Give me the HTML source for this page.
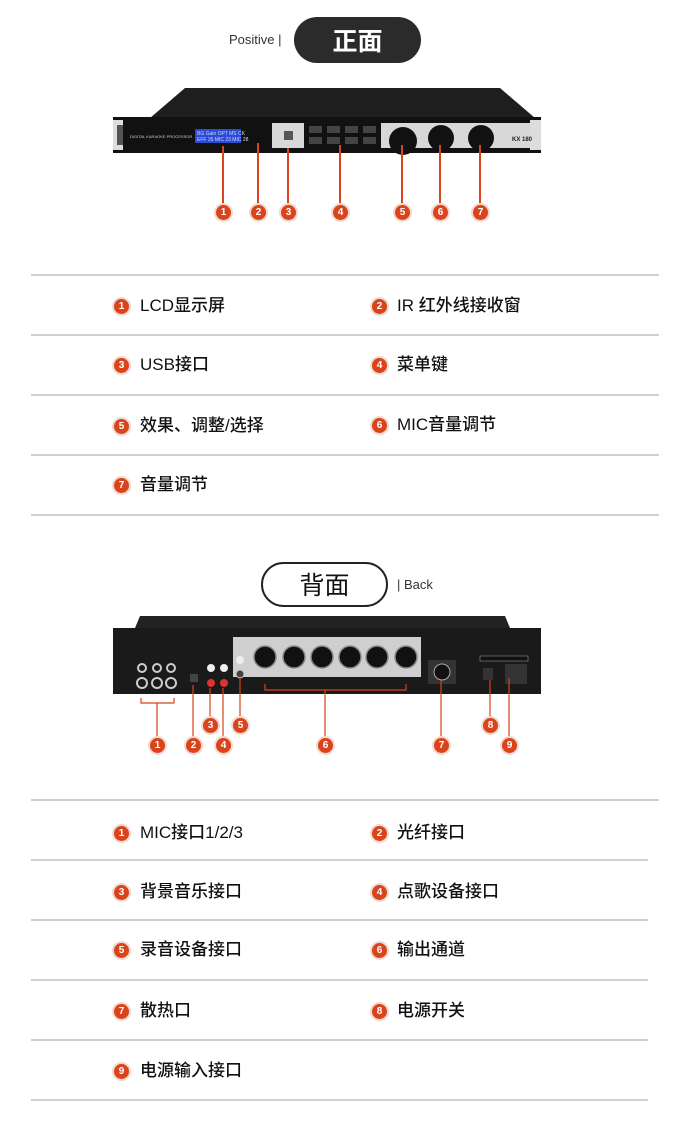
<!DOCTYPE html>
<html><head><meta charset="utf-8"><style>
*{margin:0;padding:0;box-sizing:border-box}
body{width:680px;height:1126px;background:#fff;position:relative;overflow:hidden;font-family:"Liberation Sans","Noto Sans CJK SC",sans-serif;color:#111}
.ln{position:absolute;left:31px;width:628px;height:2px;background:#cfcfcf}
.it{position:absolute;font-size:17px;font-weight:500;line-height:20px;white-space:nowrap}
.b{position:absolute;width:19px;height:19px;border-radius:50%;background:#f1d9cf;}
.b::after{content:"";position:absolute;left:2px;top:2px;width:15px;height:15px;border-radius:50%;background:#d9441c}
.b span{position:absolute;left:0;top:0;width:19px;line-height:19px;text-align:center;color:#fff;font-size:10px;font-weight:bold;z-index:1}
</style></head><body>

<div style="position:absolute;left:229px;top:32px;font-size:13px;color:#333">Positive |</div>
<div style="position:absolute;left:294px;top:17px;width:127px;height:46px;border-radius:23px;background:#2b2b2b;color:#fff;font-size:25px;font-weight:bold;text-align:center;line-height:46px;font-family:'Noto Sans CJK SC',sans-serif">正面</div>

<svg style="position:absolute;left:0;top:0" width="680" height="230">
<polygon points="150,118 185,88 500,88 535,118" fill="#1e1e1e"/>
<rect x="113" y="117" width="428" height="36" fill="#111"/>
<rect x="113" y="120" width="10" height="30" fill="#ddd"/><rect x="530" y="120" width="11" height="30" fill="#ddd"/>
<rect x="117" y="125" width="6" height="20" fill="#555"/>
<rect x="272" y="123" width="258" height="25" fill="#d8d8d8"/>
<rect x="195" y="129" width="46" height="14" fill="#2c49d8"/>
<text x="197" y="135" font-size="5" fill="#cde">BG Gain OPT MS CK</text>
<text x="197" y="141" font-size="5" fill="#cde">EFF 35 MIC 23 MIC 28</text>
<text x="130" y="138" font-size="4" fill="#ccc">DIGITAL KARAOKE PROCESSOR</text>
<rect x="284" y="131" width="9" height="9" fill="#555"/>
<rect x="304" y="120" width="77" height="31" rx="3" fill="#111"/>
<g fill="#444"><rect x="309" y="126" width="13" height="7"/><rect x="327" y="126" width="13" height="7"/><rect x="345" y="126" width="13" height="7"/><rect x="363" y="126" width="13" height="7"/>
<rect x="309" y="137" width="13" height="7"/><rect x="327" y="137" width="13" height="7"/><rect x="345" y="137" width="13" height="7"/><rect x="363" y="137" width="13" height="7"/></g>
<circle cx="403" cy="141" r="14" fill="#111"/><circle cx="441" cy="138" r="13" fill="#111"/><circle cx="481" cy="138" r="13" fill="#111"/>
<text x="512" y="141" font-size="6" font-weight="bold" fill="#222">KX 180</text>
<g stroke="#d9441c" stroke-width="2"><line x1="223" y1="146" x2="223" y2="205"/><line x1="258" y1="143" x2="258" y2="205"/><line x1="288" y1="148" x2="288" y2="205"/><line x1="340" y1="145" x2="340" y2="205"/><line x1="402" y1="145" x2="402" y2="205"/><line x1="440" y1="145" x2="440" y2="205"/><line x1="480" y1="145" x2="480" y2="205"/></g>
</svg>
<div class="b" style="left:214px;top:203px"><span>1</span></div>
<div class="b" style="left:249px;top:203px"><span>2</span></div>
<div class="b" style="left:279px;top:203px"><span>3</span></div>
<div class="b" style="left:331px;top:203px"><span>4</span></div>
<div class="b" style="left:393px;top:203px"><span>5</span></div>
<div class="b" style="left:431px;top:203px"><span>6</span></div>
<div class="b" style="left:471px;top:203px"><span>7</span></div>

<div class="ln" style="top:274px"></div><div class="ln" style="top:334px"></div><div class="ln" style="top:394px"></div><div class="ln" style="top:454px"></div><div class="ln" style="top:514px"></div>
<div class="b" style="left:112px;top:297px"><span>1</span></div><div class="it" style="left:140px;top:296px">LCD显示屏</div>
<div class="b" style="left:370px;top:297px"><span>2</span></div><div class="it" style="left:397px;top:296px">IR 红外线接收窗</div>
<div class="b" style="left:112px;top:356px"><span>3</span></div><div class="it" style="left:140px;top:355px">USB接口</div>
<div class="b" style="left:370px;top:356px"><span>4</span></div><div class="it" style="left:397px;top:355px">菜单键</div>
<div class="b" style="left:112px;top:417px"><span>5</span></div><div class="it" style="left:140px;top:416px">效果、调整/选择</div>
<div class="b" style="left:370px;top:416px"><span>6</span></div><div class="it" style="left:397px;top:415px">MIC音量调节</div>
<div class="b" style="left:112px;top:476px"><span>7</span></div><div class="it" style="left:140px;top:475px">音量调节</div>

<div style="position:absolute;left:261px;top:562px;width:127px;height:45px;border-radius:23px;border:2px solid #222;background:#fff;font-size:25px;text-align:center;line-height:41px;font-family:'Noto Sans CJK SC',sans-serif">背面</div>
<div style="position:absolute;left:397px;top:577px;font-size:13px;color:#333">| Back</div>

<svg style="position:absolute;left:0;top:600px" width="680" height="170">
<polygon points="135,28 140,16 505,16 510,28" fill="#222"/>
<rect x="113" y="28" width="428" height="66" fill="#1a1a1a"/>
<rect x="233" y="37" width="188" height="40" fill="#cfcfcf"/>
<g fill="#111" stroke="#888" stroke-width="1.5"><circle cx="263" cy="80" r="1" stroke="none"/>
<circle cx="265" cy="57" r="11"/><circle cx="294" cy="57" r="11"/><circle cx="322" cy="57" r="11"/><circle cx="350" cy="57" r="11"/><circle cx="377" cy="57" r="11"/><circle cx="406" cy="57" r="11"/></g>
<g fill="none" stroke="#ccc" stroke-width="2"><circle cx="142" cy="83" r="5"/><circle cx="157" cy="83" r="5"/><circle cx="171" cy="83" r="5"/><circle cx="142" cy="68" r="4"/><circle cx="157" cy="68" r="4"/><circle cx="171" cy="68" r="4"/></g>
<circle cx="211" cy="68" r="4" fill="#eee"/><circle cx="224" cy="68" r="4" fill="#eee"/><circle cx="211" cy="83" r="4" fill="#d33"/><circle cx="224" cy="83" r="4" fill="#d33"/>
<circle cx="240" cy="60" r="4" fill="#eee"/><circle cx="240" cy="74" r="4" fill="#444" stroke="#ccc"/>
<rect x="190" y="74" width="8" height="8" fill="#444"/>
<rect x="428" y="60" width="28" height="24" fill="#333"/><circle cx="442" cy="72" r="8" fill="#111" stroke="#aaa"/>
<rect x="483" y="68" width="10" height="12" fill="#333"/><rect x="505" y="64" width="22" height="20" fill="#333"/>
<rect x="480" y="56" width="48" height="5" fill="#111" stroke="#aaa" stroke-width=".5"/>
<g stroke="#d9441c" stroke-width="1.2" fill="none"><polyline points="141,98 141,103 174,103 174,98"/><line x1="157" y1="103" x2="157" y2="138"/>
<polyline points="265,84 265,90 406,90 406,84"/><line x1="325" y1="90" x2="325" y2="138"/>
<line x1="193" y1="85" x2="193" y2="138"/><line x1="210" y1="88" x2="210" y2="118"/><line x1="223" y1="88" x2="223" y2="138"/><line x1="240" y1="78" x2="240" y2="118"/>
<line x1="441" y1="80" x2="441" y2="138"/><line x1="490" y1="80" x2="490" y2="118"/><line x1="509" y1="78" x2="509" y2="138"/></g>
</svg>
<div class="b" style="left:148px;top:736px"><span>1</span></div>
<div class="b" style="left:184px;top:736px"><span>2</span></div>
<div class="b" style="left:201px;top:716px"><span>3</span></div>
<div class="b" style="left:214px;top:736px"><span>4</span></div>
<div class="b" style="left:231px;top:716px"><span>5</span></div>
<div class="b" style="left:316px;top:736px"><span>6</span></div>
<div class="b" style="left:432px;top:736px"><span>7</span></div>
<div class="b" style="left:481px;top:716px"><span>8</span></div>
<div class="b" style="left:500px;top:736px"><span>9</span></div>

<div class="ln" style="top:799px"></div><div class="ln" style="top:859px;width:617px"></div><div class="ln" style="top:919px;width:617px"></div><div class="ln" style="top:979px;width:617px"></div><div class="ln" style="top:1039px;width:617px"></div><div class="ln" style="top:1099px;width:617px"></div>
<div class="b" style="left:112px;top:824px"><span>1</span></div><div class="it" style="left:140px;top:823px">MIC接口1/2/3</div>
<div class="b" style="left:370px;top:824px"><span>2</span></div><div class="it" style="left:397px;top:823px">光纤接口</div>
<div class="b" style="left:112px;top:883px"><span>3</span></div><div class="it" style="left:140px;top:882px">背景音乐接口</div>
<div class="b" style="left:370px;top:883px"><span>4</span></div><div class="it" style="left:397px;top:882px">点歌设备接口</div>
<div class="b" style="left:112px;top:941px"><span>5</span></div><div class="it" style="left:140px;top:940px">录音设备接口</div>
<div class="b" style="left:370px;top:941px"><span>6</span></div><div class="it" style="left:397px;top:940px">输出通道</div>
<div class="b" style="left:112px;top:1002px"><span>7</span></div><div class="it" style="left:140px;top:1001px">散热口</div>
<div class="b" style="left:370px;top:1002px"><span>8</span></div><div class="it" style="left:397px;top:1001px">电源开关</div>
<div class="b" style="left:112px;top:1062px"><span>9</span></div><div class="it" style="left:140px;top:1061px">电源输入接口</div>
</body></html>
